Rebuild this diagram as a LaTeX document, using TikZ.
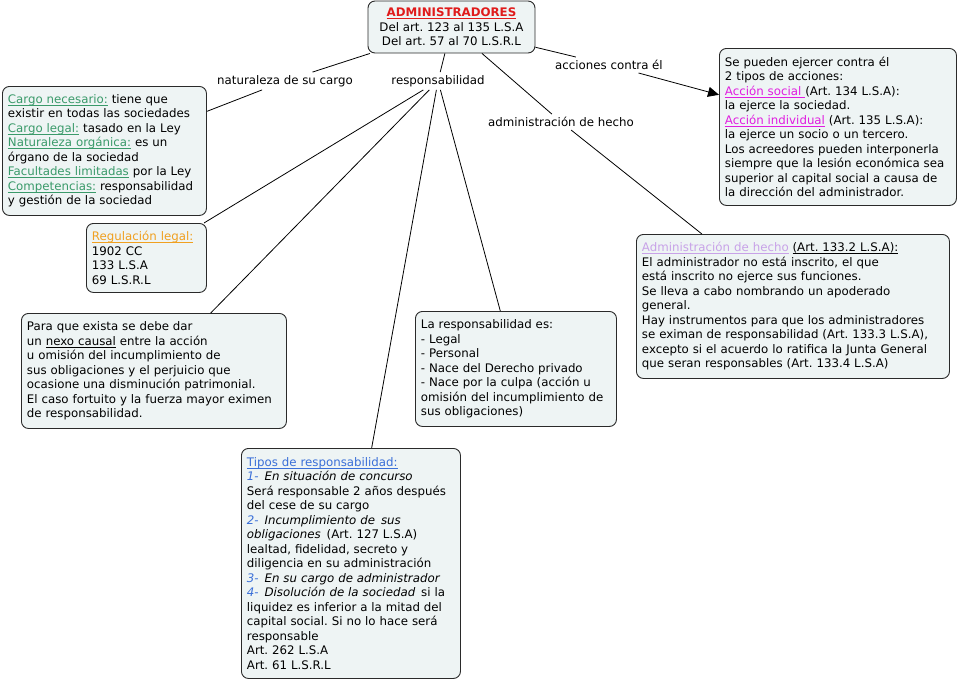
\documentclass[tikz,border=0pt]{standalone}
\usepackage{fontspec}
\setmainfont{DejaVu Sans}
\usepackage{xcolor}
\usepackage{tikz}
\usetikzlibrary{arrows.meta}
\definecolor{mapfill}{HTML}{EEF4F4}
\definecolor{mapline}{HTML}{2A2A2A}
\definecolor{titlered}{HTML}{E01B1B}
\definecolor{notegreen}{HTML}{3A9A6A}
\definecolor{noteorange}{HTML}{F0A020}
\definecolor{notemagenta}{HTML}{E01EE0}
\definecolor{notelavender}{HTML}{C8A2E8}
\definecolor{noteblue}{HTML}{3A6FD8}
\newsavebox{\ulbox}
\newcommand{\ulmap}[1]{\leavevmode\sbox{\ulbox}{#1}\rlap{\rule[-2.2pt]{\wd\ulbox}{0.7pt}}\usebox{\ulbox}}
\newcommand{\hlgreen}[1]{{\color{notegreen}\ulmap{#1}}}
\newcommand{\hlorange}[1]{{\color{noteorange}\ulmap{#1}}}
\newcommand{\hlmag}[1]{{\color{notemagenta}\ulmap{#1}}}
\newcommand{\hllav}[1]{{\color{notelavender}\ulmap{#1}}}
\newcommand{\hlblue}[1]{{\color{noteblue}\ulmap{#1}}}
\newcommand{\itnum}[1]{{\color{noteblue}\textit{#1}}}
\newcommand{\mapfont}{\fontsize{11.8}{14.5}\selectfont\frenchspacing\hyphenpenalty=10000\exhyphenpenalty=10000}
\tikzset{
  conceptbox/.style={rounded corners=7pt, draw=mapline, fill=mapfill, line width=0.9pt, align=left, anchor=north west, inner xsep=5.5pt, inner ysep=3pt, font=\mapfont},
  rootbox/.style={rounded corners=7pt, draw=mapline, fill=mapfill, line width=0.9pt, align=center, inner sep=3pt, minimum width=167pt, minimum height=52pt, font=\mapfont},
  linklabel/.style={inner sep=3pt, font=\mapfont},
  link/.style={line width=0.8pt, draw=black},
  arrowlink/.style={-{Triangle[length=11pt,width=10pt]}, line width=0.8pt, draw=black}
}
\begin{document}
\begin{tikzpicture}[x=1pt, y=-1pt]
  \useasboundingbox (0,0) rectangle (959,680);
  % root concept
  \node[rootbox] (root) at (451.5,27) {{\color{titlered}\ulmap{\textbf{ADMINISTRADORES}}}\\Del art. 123 al 135 L.S.A\\Del art. 57 al 70 L.S.R.L};
  % linking phrases
  \node[linklabel] (nat) at (285,81) {naturaleza de su cargo};
  \node[linklabel] (resp) at (438,81) {responsabilidad};
  \node[linklabel] (hecho) at (561,122) {administración de hecho};
  \node[linklabel] (acc) at (609,65) {acciones contra él};
  % concepts
  \node[conceptbox, minimum width=204pt, minimum height=129pt, text width=193pt] (cargo) at (2,86)
    {\hlgreen{Cargo necesario:} tiene que\\existir en todas las sociedades\\\hlgreen{Cargo legal:} tasado en la Ley\\\hlgreen{Naturaleza orgánica:} es un\\órgano de la sociedad\\\hlgreen{Facultades limitadas} por la Ley\\\hlgreen{Competencias:} responsabilidad\\y gestión de la sociedad};
  \node[conceptbox, minimum width=120pt, minimum height=69pt, text width=109pt] (regla) at (86,223)
    {\hlorange{Regulación legal:}\\1902 CC\\133 L.S.A\\69 L.S.R.L};
  \node[conceptbox, minimum width=265pt, minimum height=115pt, text width=254pt] (nexo) at (21,313)
    {Para que exista se debe dar\\un \ulmap{nexo causal} entre la acción\\u omisión del incumplimiento de\\sus obligaciones y el perjuicio que\\ocasione una disminución patrimonial.\\El caso fortuito y la fuerza mayor eximen\\de responsabilidad.};
  \node[conceptbox, minimum width=201pt, minimum height=115pt, text width=190pt] (rasgos) at (415,311)
    {La responsabilidad es:\\- Legal\\- Personal\\- Nace del Derecho privado\\- Nace por la culpa (acción u\\omisión del incumplimiento de\\sus obligaciones)};
  \node[conceptbox, minimum width=219pt, minimum height=230pt, text width=208pt] (tipos) at (241,448)
    {\hlblue{Tipos de responsabilidad:}\\\itnum{1-}\, \textit{En situación de concurso}\\Será responsable 2 años después\\del cese de su cargo\\\itnum{2-}\, \textit{Incumplimiento de\, sus}\\\textit{obligaciones}\, (Art. 127 L.S.A)\\lealtad, fidelidad, secreto y\\diligencia en su administración\\\itnum{3-}\, \textit{En su cargo de administrador}\\\itnum{4-}\, \textit{Disolución de la sociedad}\, si la\\liquidez es inferior a la mitad del\\capital social. Si no lo hace será\\responsable\\Art. 262 L.S.A\\Art. 61 L.S.R.L};
  \node[conceptbox, minimum width=237pt, minimum height=157pt, text width=226pt] (acciones) at (719,48)
    {Se pueden ejercer contra él\\2 tipos de acciones:\\\hlmag{Acción social\ }(Art. 134 L.S.A):\\la ejerce la sociedad.\\\hlmag{Acción individual} (Art. 135 L.S.A):\\la ejerce un socio o un tercero.\\Los acreedores pueden interponerla\\siempre que la lesión económica sea\\superior al capital social a causa de\\la dirección del administrador.};
  \node[conceptbox, minimum width=313pt, minimum height=144pt, text width=302pt] (admhecho) at (636,234)
    {\hllav{Administración de hecho} \ulmap{(Art. 133.2 L.S.A):}\\El administrador no está inscrito, el que\\está inscrito no ejerce sus funciones.\\Se lleva a cabo nombrando un apoderado\\general.\\Hay instrumentos para que los administradores\\se eximan de responsabilidad (Art. 133.3 L.S.A),\\excepto si el acuerdo lo ratifica la Junta General\\que seran responsables (Art. 133.4 L.S.A)};
  % connectors
  \draw[link] (root) -- (nat);
  \draw[link] (nat) -- (cargo);
  \draw[link] (root) -- (resp);
  \draw[link] (resp) -- (regla);
  \draw[link] (resp) -- (nexo);
  \draw[link] (resp) -- (tipos);
  \draw[link] (resp) -- (rasgos);
  \draw[link] (root) -- (hecho);
  \draw[link] (hecho) -- (admhecho);
  \draw[link] (root) -- (acc);
  \draw[arrowlink] (acc) -- (acciones);
\end{tikzpicture}
\end{document}
